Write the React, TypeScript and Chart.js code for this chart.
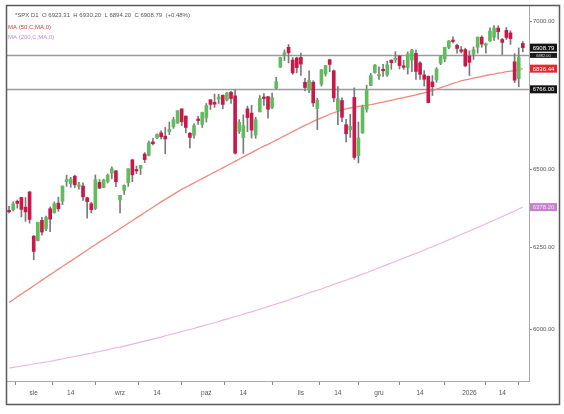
import React, { useEffect, useRef } from 'react';
import { Chart, registerables } from 'chart.js';

Chart.register(...registerables);

const dates = [
  '2025-07-24','2025-07-25','2025-07-28','2025-07-29','2025-07-30','2025-07-31',
  '2025-08-01','2025-08-04','2025-08-05','2025-08-06','2025-08-07','2025-08-08','2025-08-11','2025-08-12','2025-08-13','2025-08-14','2025-08-15','2025-08-18','2025-08-19','2025-08-20','2025-08-21','2025-08-22','2025-08-25','2025-08-26','2025-08-27','2025-08-28','2025-08-29',
  '2025-09-02','2025-09-03','2025-09-04','2025-09-05','2025-09-08','2025-09-09','2025-09-10','2025-09-11','2025-09-12','2025-09-15','2025-09-16','2025-09-17','2025-09-18','2025-09-19','2025-09-22','2025-09-23','2025-09-24','2025-09-25','2025-09-26','2025-09-29','2025-09-30',
  '2025-10-01','2025-10-02','2025-10-03','2025-10-06','2025-10-07','2025-10-08','2025-10-09','2025-10-10','2025-10-13','2025-10-14','2025-10-15','2025-10-16','2025-10-17','2025-10-20','2025-10-21','2025-10-22','2025-10-23','2025-10-24','2025-10-27','2025-10-28','2025-10-29','2025-10-30','2025-10-31',
  '2025-11-03','2025-11-04','2025-11-05','2025-11-06','2025-11-07','2025-11-10','2025-11-11','2025-11-12','2025-11-13','2025-11-14','2025-11-17','2025-11-18','2025-11-19','2025-11-20','2025-11-21','2025-11-24','2025-11-25','2025-11-26','2025-11-28',
  '2025-12-01','2025-12-02','2025-12-03','2025-12-04','2025-12-05','2025-12-08','2025-12-09','2025-12-10','2025-12-11','2025-12-12','2025-12-15','2025-12-16','2025-12-17','2025-12-18','2025-12-19','2025-12-22','2025-12-23','2025-12-24','2025-12-26','2025-12-29','2025-12-30','2025-12-31',
  '2026-01-02','2026-01-05','2026-01-06','2026-01-07','2026-01-08','2026-01-09','2026-01-12','2026-01-13','2026-01-14','2026-01-15','2026-01-16','2026-01-20','2026-01-21','2026-01-22'
];

const opens = [
  6368,6370,6397,6409,6378,6427,
  6286,6272,6336,6309,6373,6360,6391,6397,6460,6454,6478,6445,6446,6408,6389,6374,6458,6441,6461,6488,6495,
  6401,6432,6457,6531,6498,6503,6550,6546,6590,6604,6620,6609,6624,6640,6653,6700,6676,6619,6612,6664,6648,
  6670,6731,6722,6733,6746,6730,6756,6744,6625,6604,6700,6686,6613,6690,6737,6741,6705,6770,6842,6885,6910,6866,6873,
  6875,6790,6764,6790,6701,6783,6818,6867,6829,6696,6728,6647,6630,6739,6545,6620,6699,6779,6823,
  6812,6830,6815,6866,6867,6880,6846,6840,6866,6889,6856,6815,6810,6791,6798,6855,6870,6910,6935,6917,6901,6902,
  6879,6886,6910,6945,6917,6932,6945,6977,6937,6969,6960,6860,6802,6923.31
];
const highs = [
  6381,6395,6401,6410,6409,6428,
  6288,6330,6346,6350,6379,6395,6410,6446,6481,6474,6481,6458,6456,6410,6394,6482,6467,6468,6485,6508,6497,
  6416,6450,6502,6533,6511,6513,6555,6593,6601,6617,6627,6638,6656,6672,6694,6700,6676,6621,6650,6675,6689,
  6718,6731,6750,6749,6747,6755,6759,6764,6664,6680,6709,6712,6672,6745,6752,6742,6753,6807,6876,6901,6920,6875,6876,
  6890,6803,6829,6795,6736,6834,6848,6869,6832,6775,6737,6665,6682,6771,6656,6713,6780,6820,6850,
  6843,6851,6862,6866,6895,6881,6865,6894,6903,6900,6861,6830,6812,6813,6840,6880,6910,6933,6946,6921,6913,6907,
  6898,6911,6946,6950,6925,6978,6986,6985,6941,6979,6967,6888,6908,6930.2
];
const lows = [
  6360,6366,6375,6347,6333,6327,
  6212,6271,6289,6303,6300,6359,6365,6386,6445,6442,6441,6436,6400,6343,6360,6370,6438,6440,6456,6470,6444,
  6360,6419,6445,6460,6486,6483,6522,6544,6580,6601,6600,6551,6614,6635,6651,6644,6620,6570,6602,6648,6638,
  6656,6698,6705,6718,6700,6727,6718,6550,6618,6552,6624,6603,6602,6690,6712,6669,6701,6767,6840,6864,6856,6817,6822,
  6813,6761,6755,6708,6631,6777,6811,6826,6724,6647,6657,6590,6605,6533,6521,6618,6689,6779,6821,
  6800,6810,6810,6834,6858,6835,6834,6818,6826,6800,6800,6777,6720,6745,6790,6850,6860,6905,6925,6890,6890,6843,
  6813,6868,6890,6910,6890,6930,6934,6938,6885,6937,6920,6789,6775,6894.2
];
const closes = [
  6363,6388,6390,6371,6363,6339,
  6238,6330,6299,6345,6340,6389,6373,6446,6467,6469,6450,6449,6411,6396,6370,6467,6439,6466,6481,6502,6460,
  6416,6448,6502,6482,6495,6513,6532,6587,6584,6615,6607,6600,6632,6664,6694,6657,6638,6605,6644,6661,6688,
  6711,6715,6716,6740,6715,6754,6735,6553,6655,6644,6671,6629,6664,6735,6735,6699,6738,6792,6875,6891,6891,6822,6840,
  6852,6772,6796,6720,6729,6832,6847,6851,6737,6734,6672,6617,6642,6539,6603,6705,6766,6813,6849,
  6813,6829,6850,6857,6870,6847,6841,6887,6901,6827,6817,6800,6721,6775,6835,6878,6910,6932,6930,6906,6896,6846,
  6858,6902,6945,6921,6921,6966,6977,6964,6927,6944,6940,6797,6876,6908.79
];

const ma50 = [
  6081,6089,6098,6106,6115,6123,6132,6140,6149,6157,6166,6174,
  6183,6191,6200,6208,6217,6225,6234,6242,6251,6259,6268,6276,6284,
  6293,6301,6310,6318,6327,6335,6344,6352,6361,6369,6378,6386,6395,6403,6411,6419,6427,6435,6442,6449,
  6456,6463,6470,6477,6484,6491,
  6498,6505,6512,6519,6526,6534,6541,6548,6555,6562,6569,6576,6582,6589,6596,6603,
  6610,6617,6624,6631,6638,6645,6651,6658,6664,6670,6676,6682,6687,6692,6696,6700,6703,6706,6708,6710,6712,
  6714,6717,6720,6723,6726,6729,6732,6735,6738,6741,6744,6747,6751,6754,6758,
  6762,6767,6772,6776,6781,6786,6790,6795,
  6798,6801,6804,6807,6810,6813,6816,6818,6821,6823,6826,6828,6830,6833,6836.44
];
const ma200 = [
  5884,5886,5888,5890,5892,5894,5896,5898,5900,5902,
  5904,5906,5909,5911,5914,5916,5918,5921,5923,5926,
  5928,5931,5933,5936,5938,5941,5944,5946,5949,5952,
  5955,5958,5961,5964,5967,5970,5973,5976,5980,5983,
  5986,5989,5993,5996,5999,6002,6006,6009,6013,6016,
  6019,6023,6027,6030,6034,6038,6041,6045,6049,6052,
  6056,6060,6064,6068,6072,6076,6080,6084,6088,6093,
  6097,6101,6105,6110,6114,6118,6122,6127,6131,6136,
  6140,6145,6149,6154,6158,6163,6168,6172,6177,6182,
  6187,6192,6197,6202,6207,6212,6217,6222,6227,6232,
  6237,6242,6248,6253,6258,6264,6269,6275,6280,6286,
  6291,6297,6302,6308,6313,6319,6325,6331,6336,6342,
  6348,6354,6360,6366,6372,6378.2
];

const xTickIndex = [6, 15, 27, 36, 48, 57, 71, 80, 90, 100, 112, 120];
const xTickText = ['sie', '14', 'wrz', '14', 'paź', '14', 'lis', '14', 'gru', '14', '2026', '14'];
const yTicks = [6000, 6250, 6500, 7000];
const levelLines = [6882.0, 6766.0];
const headerText = '*SPX D1  O 6923.31  H 6930.20  L 6894.20  C 6908.79  (+0.48%)';
const ma50Title = 'MA (50,C,MA,0)';
const ma200Title = 'MA (200,C,MA,0)';

const UP = '#62bb5e';
const DOWN = '#c9184a';
const FONT = '"Liberation Sans", Arial, sans-serif';

const overlayPlugin = {
  id: 'overlay',
  beforeDatasetsDraw(chart: any) {
    const { ctx, chartArea } = chart;
    const y = chart.scales.y;
    ctx.save();
    ctx.strokeStyle = '#9a9a9a';
    ctx.lineWidth = 1.5;
    levelLines.forEach((v) => {
      const py = Math.round(y.getPixelForValue(v)) + 0.5;
      ctx.beginPath();
      ctx.moveTo(chartArea.left, py);
      ctx.lineTo(chartArea.right, py);
      ctx.stroke();
    });
    ctx.restore();
  },
  afterDraw(chart: any) {
    const { ctx, chartArea } = chart;
    const y = chart.scales.y;
    ctx.save();
    ctx.strokeStyle = '#b0b0b0';
    ctx.lineWidth = 1;
    ctx.beginPath();
    ctx.moveTo(chartArea.left, chartArea.top + 0.5);
    ctx.lineTo(chartArea.right, chartArea.top + 0.5);
    ctx.stroke();
    ctx.strokeStyle = '#5a5a5a';
    ctx.lineWidth = 1.5;
    ctx.strokeRect(6.5, 5.5, 553, 399);

    ctx.textBaseline = 'middle';
    ctx.textAlign = 'left';
    ctx.font = `6px ${FONT}`;
    ctx.fillStyle = '#555';
    ctx.fillText(headerText, 15, 15);
    ctx.fillStyle = '#e0363a';
    ctx.fillText(ma50Title, 8, 27);
    ctx.fillStyle = '#c48ad6';
    ctx.fillText(ma200Title, 8, 37);

    const box = (v: number, text: string, bg: string, fg: string, h: number, fs: number) => {
      const py = y.getPixelForValue(v);
      ctx.fillStyle = bg;
      ctx.fillRect(530, py - h / 2, 27, h);
      ctx.fillStyle = fg;
      ctx.font = `${fs}px ${FONT}`;
      ctx.textAlign = 'center';
      ctx.fillText(text, 543.5, py + 0.5);
    };
    box(levelLines[0], levelLines[0].toFixed(2), '#1a1a1a', '#ddd', 5, 4);
    box(closes[closes.length - 1], closes[closes.length - 1].toFixed(2), '#141414', '#fff', 8, 6);
    box(ma50[ma50.length - 1], ma50[ma50.length - 1].toFixed(2), '#e8262c', '#fff', 8, 6);
    box(levelLines[1], levelLines[1].toFixed(2), '#141414', '#fff', 8, 6);
    box(ma200[ma200.length - 1], ma200[ma200.length - 1].toFixed(2), '#c77fd0', '#f6e6f8', 8, 6);
    ctx.restore();
  },
};

export default function App() {
  const ref = useRef<HTMLCanvasElement | null>(null);
  useEffect(() => {
    if (!ref.current) return;
    const bodyColors = opens.map((o, i) => (closes[i] >= o ? UP : DOWN));
    const chart = new Chart(ref.current, {
      type: 'bar',
      data: {
        labels: [...dates, ''],
        datasets: [
          {
            type: 'bar',
            label: 'body',
            data: opens.map((o, i) => [o, closes[i]]) as any,
            backgroundColor: bodyColors,
            borderWidth: 0,
            barThickness: 3,
            minBarLength: 1.5,
            grouped: false,
            order: 0,
          } as any,
          {
            type: 'bar',
            label: 'wick',
            data: lows.map((l, i) => [l, highs[i]]) as any,
            backgroundColor: '#7a7a7a',
            borderWidth: 0,
            barThickness: 1,
            grouped: false,
            order: 1,
          } as any,
          {
            type: 'line',
            label: 'MA50',
            data: ma50,
            borderColor: '#ef8a7c',
            borderWidth: 1.3,
            pointRadius: 0,
            tension: 0,
            order: 2,
          } as any,
          {
            type: 'line',
            label: 'MA200',
            data: ma200,
            borderColor: '#ebb4da',
            borderWidth: 1.1,
            pointRadius: 0,
            tension: 0,
            order: 3,
          } as any,
        ],
      },
      options: {
        responsive: false,
        animation: false,
        devicePixelRatio: 1,
        layout: { padding: { left: 7, top: 5, right: 0, bottom: 0 } },
        plugins: { legend: { display: false }, tooltip: { enabled: false }, title: { display: false } },
        scales: {
          x: {
            type: 'category',
            offset: true,
            grid: { display: true, drawOnChartArea: false, drawTicks: true, tickLength: 4, color: '#888' },
            border: { display: true, color: '#aaa' },
            ticks: {
              autoSkip: false,
              maxRotation: 0,
              minRotation: 0,
              padding: 4,
              color: '#555',
              font: { family: FONT, size: 6.5 },
              callback: (value: any) => {
                const k = xTickIndex.indexOf(Number(value));
                return k >= 0 ? xTickText[k] : '';
              },
            },
            afterBuildTicks: (s: any) => {
              s.ticks = xTickIndex.map((i) => ({ value: i }));
            },
            afterFit: (s: any) => {
              s.height = 33;
            },
          },
          y: {
            type: 'logarithmic',
            position: 'right',
            min: 5846,
            max: 7058,
            grid: { display: true, drawOnChartArea: false, drawTicks: true, tickLength: 3, color: '#888' },
            border: { display: true, color: '#aaa' },
            ticks: {
              padding: 1,
              color: '#555',
              font: { family: FONT, size: 6 },
              callback: (value: any) => Number(value).toFixed(2),
            },
            afterBuildTicks: (s: any) => {
              s.ticks = yTicks.map((v) => ({ value: v, major: false }));
            },
            afterFit: (s: any) => {
              s.width = 35;
            },
          },
        },
      } as any,
      plugins: [overlayPlugin],
    });
    return () => chart.destroy();
  }, []);
  return (
    <div style={{ position: 'absolute', left: 0, top: 0, width: 564, height: 414, background: '#fff' }}>
      <canvas ref={ref} width={564} height={414} style={{ width: 564, height: 414, display: 'block' }} />
    </div>
  );
}
